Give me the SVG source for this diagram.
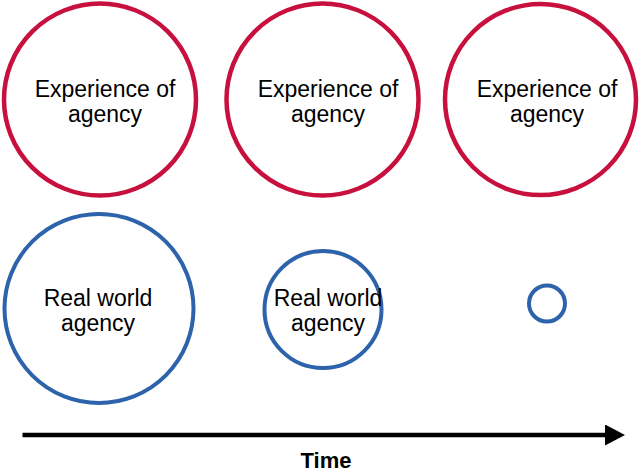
<svg xmlns="http://www.w3.org/2000/svg" width="640" height="472" viewBox="0 0 640 472">
<style>
.exp{fill:#ffffff;stroke:#c8103e;stroke-width:4.5}
.real{fill:#ffffff;stroke:#2d63ab;stroke-width:4}
.lbl{font-family:"Liberation Sans",Arial,sans-serif;font-size:23px;fill:#000;text-anchor:middle}
.time{font-family:"Liberation Sans",Arial,sans-serif;font-size:22px;font-weight:bold;fill:#000;text-anchor:middle}
</style>
<defs>
<marker id="ah" viewBox="0 0 20 21" refX="0" refY="10.5" markerWidth="20" markerHeight="21" markerUnits="userSpaceOnUse" orient="auto">
<polygon points="0,0 20,10.5 0,21" fill="#000"/>
</marker>
</defs>
<rect width="640" height="472" fill="#ffffff"/>
<g id="exp1">
<circle class="exp" cx="100" cy="99.5" r="96"/>
<text class="lbl" x="105" y="97">Experience of</text>
<text class="lbl" x="105" y="122">agency</text>
</g>
<g id="exp2">
<circle class="exp" cx="322.5" cy="99.5" r="96"/>
<text class="lbl" x="328" y="97">Experience of</text>
<text class="lbl" x="328" y="122">agency</text>
</g>
<g id="exp3">
<circle class="exp" cx="540.5" cy="99.5" r="95.5"/>
<text class="lbl" x="547" y="97">Experience of</text>
<text class="lbl" x="547" y="122">agency</text>
</g>
<g id="real1">
<circle class="real" cx="99" cy="308.5" r="94.5"/>
<text class="lbl" x="98" y="306">Real world</text>
<text class="lbl" x="98" y="331">agency</text>
</g>
<g id="real2">
<circle class="real" cx="323" cy="309.5" r="58.5"/>
<text class="lbl" x="328" y="306">Real world</text>
<text class="lbl" x="328" y="331">agency</text>
</g>
<g id="real3">
<circle class="real" cx="547" cy="303.5" r="18"/>
</g>
<g id="connectors">
<line x1="22.5" y1="435" x2="605" y2="435" stroke="#000" stroke-width="4.5" marker-end="url(#ah)"/>
</g>
<g id="time-label">
<text class="time" x="326" y="468">Time</text>
</g>
</svg>
